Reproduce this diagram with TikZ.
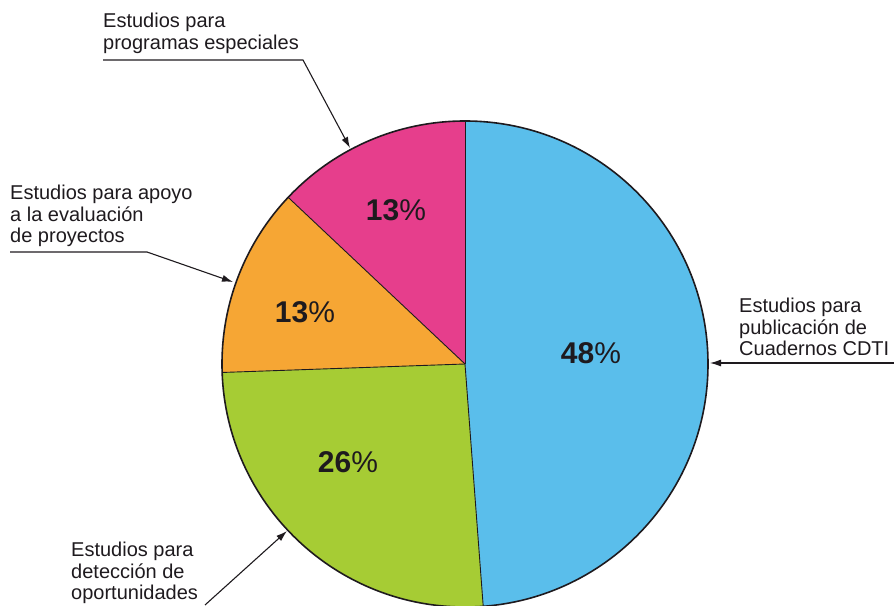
\documentclass[tikz,border=0pt]{standalone}
\usepackage{fontspec}
\setmainfont{Liberation Sans}
\usetikzlibrary{arrows.meta}
\definecolor{pieBlue}{RGB}{90,190,235}
\definecolor{pieMagenta}{RGB}{230,62,140}
\definecolor{pieOrange}{RGB}{246,166,52}
\definecolor{pieGreen}{RGB}{166,204,52}
\definecolor{inkDark}{RGB}{30,26,30}
\tikzset{
	callout/.style={font=\fontsize{20}{21.5}\selectfont, align=left, inner sep=0pt, anchor=north west, text=inkDark},
	pct/.style={font=\fontsize{30}{30}\selectfont, inner sep=0pt, text=inkDark},
	pointer/.style={line width=1.1pt, draw=inkDark, -{Latex[length=11pt,width=7pt]}}
}
\begin{document}
\begin{tikzpicture}[x=1pt,y=1pt]
	% Define the variables
	\def\r{243}
	\coordinate (c) at (465,241);
	\useasboundingbox (0,0) rectangle (894,605);
	
	% Slices
	\foreach \a/\b/\col in {-85.7/90/pieBlue, 90/136.7/pieMagenta, 136.7/182/pieOrange, 182/274.3/pieGreen}
	\fill[\col] (c) -- ++(\a:\r) arc[start angle=\a, end angle=\b, radius=\r] -- cycle;
	
	% Borders
	\foreach \a in {-85.7,90,136.7,182}
	\draw[inkDark, line width=0.9pt] (c) -- ++(\a:\r);
	\draw[inkDark, line width=1.6pt] (c) circle[radius=\r];
	
	% Percentages
	\node[pct] (p48) at (591,252) {\textbf{48}\%};
	\node[pct] (p13a) at (396,395) {\textbf{13}\%};
	\node[pct] (p13b) at (305,293) {\textbf{13}\%};
	\node[pct] (p26) at (348,143) {\textbf{26}\%};
	
	% Labels
	\node[callout] (progLbl) at (103,592) {Estudios para\\programas especiales};
	\node[callout] (evalLbl) at (10,420) {Estudios para apoyo\\a la evaluación\\de proyectos};
	\node[callout] (cuadLbl) at (739,307) {Estudios para\\publicación de\\Cuadernos CDTI};
	\node[callout] (detLbl) at (71,63) {Estudios para\\detección de\\oportunidades};
	
	% Pointers
	\coordinate (progEnd) at (303,545);
	\coordinate (progTip) at (350,457);
	\draw[pointer] (progLbl.west |- progEnd) -- (progEnd) -- (progTip);
	
	\coordinate (evalEnd) at (147,353);
	\coordinate (evalTip) at (233,323);
	\draw[pointer] (evalLbl.west |- evalEnd) -- (evalEnd) -- (evalTip);
	
	\coordinate (cuadStart) at (894,242);
	\coordinate (cuadTip) at (710,242);
	\draw[pointer] (cuadStart) -- (cuadTip);
	
	\coordinate (detStart) at (205,0);
	\coordinate (detTip) at (287,74);
	\draw[pointer] (detStart) -- (detTip);
\end{tikzpicture}
\end{document}
